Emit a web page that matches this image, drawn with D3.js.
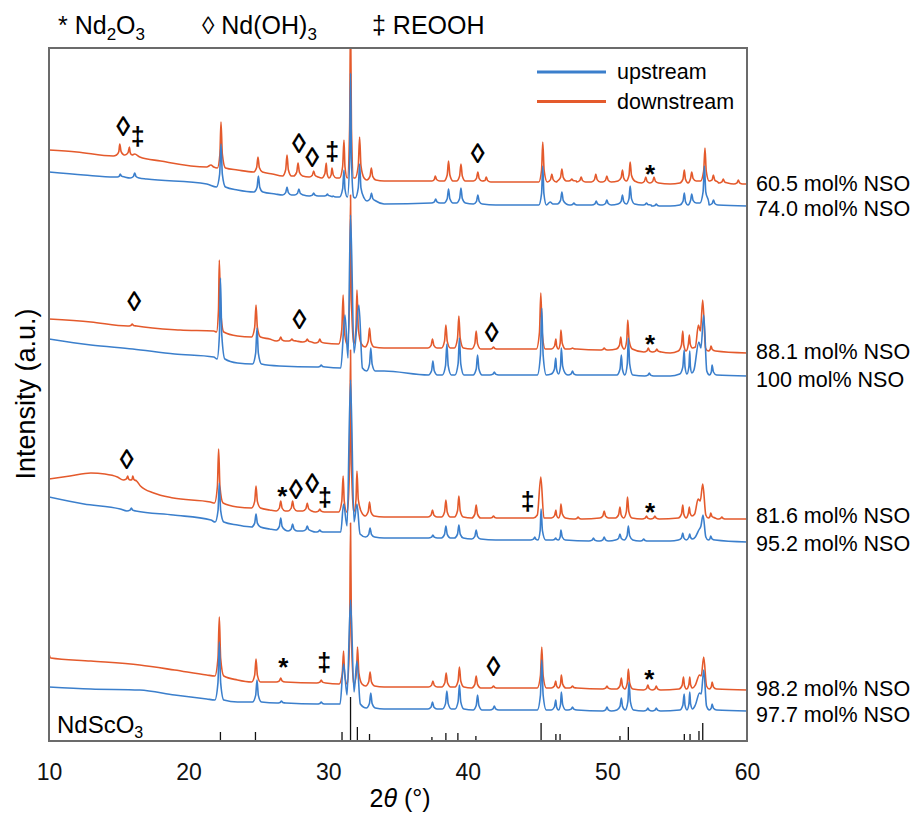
<!DOCTYPE html>
<meta charset="utf-8">
<style>
body { margin: 0; background: #fff; }
svg { font-family: "Liberation Sans", Arial, Helvetica, sans-serif; }
.frame { fill: none; stroke: #6b6b6b; stroke-width: 2px; }
.trace { fill: none; stroke-width: 1.6px; stroke-linejoin: round; }
</style>
<svg width="916" height="816"></svg>
<script src="https://d3js.org/d3.v7.min.js"></script>
<script>

// entries: [2theta, I] is a plain point, [2theta, base, apex(, halfwidth)] is a peak
var dn605 = [[10,34],[12,32],[14.6,28],[15.07,29,40],[15.76,29,37],[16.14,30],[16.5,27],[18,23],[21.3,17],[21.6,19],[21.8,17],[22.32,16,62],[23.5,14],[24.97,12,27],[26,10],[27.05,8,29],[27.84,8,21],[28.96,7,13],[29.86,6,21],[30.27,6,16],[31.13,6,44],[31.6,6,170,0.22],[32.25,6,47],[33.09,4,16],[34,3],[37.2,3],[37.67,3,8],[38.62,3,23],[39.51,3,20],[40.72,3,12],[41.32,2,7],[42,2],[44.8,2],[45.37,2,42],[46.02,2,10],[46.74,3,15],[47.45,3,5],[48.12,2,7],[49.17,2,10],[49.96,2,8],[51.08,3,14],[51.63,3,22],[52.75,1,7],[53.34,1,7],[54.5,0],[55.51,1,14],[56.04,3,12],[56.99,3,36],[57.59,2,9],[58.3,1,5],[59.38,0,4],[60,0]];
var up740 = [[10,34],[12.5,31],[14.7,29],[15.1,29,32],[16.14,28,33],[17,27],[21.3,22],[22.32,19,62],[23.5,16],[25.0,14,30],[26.2,12],[27.05,11,19],[27.9,11,17],[28.96,10,13],[29.95,10,12],[30.35,9,10],[31.13,9,36],[31.6,9,133,0.22],[32.25,8,42],[33.1,5,13],[34,2],[37.7,3,7],[38.62,3,17],[39.51,3,18],[40.72,2,11],[42,1],[44.8,1],[45.37,1,40],[45.9,4],[46.1,2],[46.74,2,14],[47.6,1,3],[49.2,1,5],[49.96,1,6],[51.08,2,11],[51.63,2,20],[52.8,1,3],[53.5,0,2],[54.5,0],[55.51,1,13],[56.04,3,12],[56.95,3,40],[57.6,1,6],[60,0]];
var dn881 = [[10,34],[13,31],[15.96,27,29],[19.4,23],[21.8,22],[22.2,21,93],[23.5,17],[24.83,16,48],[25.8,14],[26.6,12,16],[27.4,12,14],[28.5,11,14],[29.4,10,14],[31.07,9,58],[31.6,9,158,0.22],[32.06,9,63],[32.96,6,25],[34,5],[37.47,5,14],[38.43,5,28],[39.36,5,37],[40.6,4,22],[41.84,4,6],[44.5,4],[45.23,4,60],[46.31,4,14],[46.67,4,23],[47.5,4,5],[49.77,3,5],[50.96,4,16],[51.46,4,33],[52.93,1,5],[53.54,1,4],[54.5,0],[55.4,2,22],[55.87,5,18],[56.3,6],[56.52,28],[56.66,22],[56.83,53],[57.03,5],[57.42,2,7],[60,0]];
var up100 = [[10,37],[13,31],[16,27],[19,22],[21.8,19],[22.28,17,98],[23.5,13],[24.9,12,48],[26.5,10],[29.5,9,11],[30.9,8],[31.2,61],[31.42,18],[31.6,161],[31.85,23],[32.2,71],[32.45,8],[33.05,5,28],[34,5],[37.5,1,15],[38.5,1,32],[39.4,1,38],[40.7,1,21],[41.9,1,4],[44.5,1],[45.3,1,68],[46.3,2,18],[46.7,2,28],[47.5,1,5],[51.0,1,21],[51.5,1,38],[53.0,0,3],[54.5,0],[55.5,2,26],[55.9,3,25],[56.2,6],[56.55,34],[56.7,28],[56.9,61],[57.12,5],[57.5,1,11],[60,0]];
var dn816 = [[10,40],[11.5,43],[13,46],[14,45],[14.9,42],[15.64,39,43],[16.0,38,43],[16.55,33],[17.5,26],[18.9,21],[21.56,17],[22.15,16,70],[23.5,12],[24.83,11,33],[25.8,9],[26.6,8,18],[27.45,8,18],[28.5,8,16],[29.4,7,10],[31.07,7,43],[31.6,7,169,0.22],[32.06,7,48],[32.96,3,17],[34,2],[37.47,2,9],[38.43,2,19],[39.36,2,23],[40.6,1,14],[41.84,1,3],[44.7,1],[44.98,4],[45.23,42],[45.45,1],[46.31,1,9],[46.67,1,15],[47.9,0,2],[49.77,1,8],[50.9,1,12],[51.44,1,22],[52.8,0,3],[53.4,0,3],[55.4,1,14],[55.87,3,12],[56.25,5],[56.5,20],[56.65,18],[56.83,35],[57.05,4],[57.4,1,6],[58.2,0,2],[60,0]];
var up952 = [[10,45],[12.5,38],[15.1,33],[15.9,31,34],[18.9,27],[21.6,22],[22.2,20,59],[23.5,17],[24.83,15,28],[25.8,13],[26.6,12,24],[27.45,11,18],[28.5,11,16],[29.4,10,12],[30.9,10],[31.1,38],[31.35,16],[31.6,162],[31.85,20],[32.06,38],[32.28,8],[33.0,5,14],[34,4],[37.5,4,7],[38.43,4,16],[39.36,4,17],[40.6,3,12],[42,2],[44.8,2,5],[45.25,2,33],[46.3,2,4],[46.67,2,12],[49.0,1,4],[49.77,1,5],[50.9,2,8],[51.5,2,16],[52.6,1,3],[54.5,1],[55.4,2,9],[55.9,3,8],[56.3,5],[56.55,12],[56.7,16],[56.85,27],[57.05,5],[57.4,2,6],[60,0]];
var dn982 = [[10,36],[10.12,32],[13,29],[16.5,25],[19,20],[21.3,15],[22.2,14,73],[23.5,10],[24.83,8,31],[26.6,8,12],[29.5,7,10],[31.1,6,39],[31.6,6,167,0.22],[32.1,6,43],[33.0,4,18],[34,3],[37.5,3,9],[38.45,3,17],[39.4,3,23],[40.6,2,14],[41.84,2,4],[44.5,2],[45.3,2,43],[46.3,2,9],[46.7,2,15],[47.5,2,4],[49.97,1,4],[51.0,1,12],[51.5,1,21],[52.9,0,5],[53.5,0,4],[55.45,1,13],[55.9,2,13],[56.3,5],[56.6,15],[56.72,14],[56.9,33],[57.1,4],[57.5,1,8],[60,0]];
var up977 = [[10,24],[13,22],[16.5,21],[19,16],[21.3,12],[22.2,11,69],[23.5,9],[24.9,9,31],[26.65,8,10],[29.5,7,9],[30.85,7],[31.1,47],[31.35,16],[31.6,111],[31.85,19],[32.06,50],[32.3,7],[33.05,3,18],[34,2],[37.47,2,9],[38.5,2,20],[39.4,2,26],[40.7,1,16],[41.9,1,5],[44.5,1],[45.3,1,51],[46.3,1,11],[46.7,1,19],[47.5,1,4],[49.97,0,4],[51.0,1,13],[51.55,1,29],[52.9,0,3],[53.5,0,3],[55.5,1,17],[55.9,2,19],[56.3,6],[56.6,18],[56.72,17],[56.9,41],[57.1,5],[57.5,1,7],[60,0]];

var traces = [dn605, up740, dn881, up100, dn816, up952, dn982, up977];
var sides = ["downstream", "upstream", "downstream", "upstream", "downstream", "upstream", "downstream", "upstream"];
var offsets = [557, 535, 388, 365, 222, 199, 51, 30];
var sampleLabels = ["60.5 mol% NSO", "74.0 mol% NSO", "88.1 mol% NSO", "100 mol% NSO",
                    "81.6 mol% NSO", "95.2 mol% NSO", "98.2 mol% NSO", "97.7 mol% NSO"];
var labelLevels = [558, 533, 390, 362, 226, 198, 53, 27];

// NdScO3 reference pattern
var refPos = [22.28, 24.79, 30.99, 31.6, 32.09, 32.96, 37.43, 38.43, 39.29, 40.58, 45.25, 46.31, 46.61, 50.90, 51.50, 55.51, 55.92, 56.56, 56.83];
var refInt = [9, 9, 9, 44, 14, 7, 4, 8, 8, 5, 18, 7, 7, 5, 14, 7, 7, 10, 18];

// phase markers: symbol, 2theta, level
var marks = [
  ["◊",15.32,615],["‡",16.35,604],["◊",27.91,598],["◊",28.86,584],["‡",30.29,589],["◊",40.71,588],["*",53.05,574],
  ["◊",16.11,440],["◊",27.93,422],["◊",41.71,409],["*",53.05,404],
  ["◊",15.57,282],["*",26.71,252],["◊",27.69,252],["◊",28.86,258],["‡",29.77,243],["‡",44.29,239],["*",53.05,236],
  ["*",26.78,81],["‡",29.72,78],["◊",41.83,75],["*",53.0,69]
];

var xTicks = [10, 20, 30, 40, 50, 60];
var colors = { upstream: "#3b7fcc", downstream: "#e45a2c" };

var svg = d3.select("svg");
var x = d3.scaleLinear().domain([10, 60]).range([49, 747]);
var y = d3.scaleLinear().domain([0, 693]).range([741, 48]);

svg.append("clipPath").attr("id", "plot")
  .append("rect").attr("x", 49).attr("y", 48).attr("width", 698).attr("height", 693);

// turn the peak entries into line vertices (narrow peak with a foot on each side)
function expand(entries) {
  var pts = [];
  entries.forEach(function(e, i) {
    if (e.length == 2) { pts.push(e); return; }
    var hw = e[3] || 0.32;
    var prev = entries[i - 1], next = entries[i + 1];
    var hl = prev ? Math.min(hw, (e[0] - prev[0]) / 2) : hw;
    var hr = next ? Math.min(hw, (next[0] - e[0]) / 2) : hw;
    var h = e[2] - e[1];
    pts.push([e[0] - hl, e[1]]);
    pts.push([e[0] - hl * 0.3, e[1] + h * 0.3]);
    pts.push([e[0], e[2]]);
    pts.push([e[0] + hr * 0.3, e[1] + h * 0.3]);
    pts.push([e[0] + hr, e[1]]);
  });
  pts.sort(function(a, b) { return a[0] - b[0]; });
  return pts.filter(function(p, i) { return i == 0 || p[0] > pts[i - 1][0]; });
}

var g = svg.append("g").attr("clip-path", "url(#plot)");

// reference sticks
g.selectAll("line.ref")
  .data(refPos)
  .enter().append("line")
    .attr("class", "ref")
    .attr("x1", function(d) { return x(d); })
    .attr("x2", function(d) { return x(d); })
    .attr("y1", y(0))
    .attr("y2", function(d, i) { return y(refInt[i]); })
    .attr("stroke", "#111")
    .attr("stroke-width", 1.3);

traces.forEach(function(tr, i) {
  var off = offsets[i];
  var line = d3.line()
    .x(function(d) { return x(d[0]); })
    .y(function(d) { return y(off + d[1]); })
    .curve(d3.curveMonotoneX);
  g.append("path")
    .attr("class", "trace")
    .attr("d", line(expand(tr)))
    .attr("stroke", colors[sides[i]]);
});

// phase markers
var symStyle = { "◊": [28, 0.36], "‡": [25, 0.33], "*": [26, 0.62] };
svg.selectAll("text.mark")
  .data(marks)
  .enter().append("text")
    .attr("class", "mark")
    .attr("x", function(d) { return x(d[1]); })
    .attr("y", function(d) { return y(d[2]); })
    .attr("dy", function(d) { return symStyle[d[0]][1] + "em"; })
    .attr("text-anchor", "middle")
    .style("font-size", function(d) { return symStyle[d[0]][0] + "px"; })
    .style("font-weight", "bold")
    .text(function(d) { return d[0]; });

// NdScO3 label
var nd = svg.append("text").attr("x", 57).attr("y", 733).style("font-size", "24px");
nd.append("tspan").text("NdScO");
nd.append("tspan").attr("dy", 5).style("font-size", "16px").text("3");

// frame
svg.append("rect").attr("class", "frame")
  .attr("x", 49).attr("y", 48).attr("width", 698).attr("height", 693);

// x axis
var xAxis = d3.axisBottom(x).tickValues(xTicks).tickSize(0).tickPadding(23);
var ax = svg.append("g").attr("transform", "translate(0,741)").call(xAxis);
ax.select(".domain").remove();
ax.selectAll("text").style("font-size", "23px").style("font-family", "inherit").attr("fill", "#111");

var xl = svg.append("text").attr("x", 400).attr("y", 807).attr("text-anchor", "middle").style("font-size", "25px");
xl.append("tspan").text("2");
xl.append("tspan").style("font-style", "italic").text("θ");
xl.append("tspan").text(" (°)");

svg.append("text")
  .attr("transform", "translate(35,394) rotate(-90)")
  .attr("text-anchor", "middle")
  .style("font-size", "27px")
  .text("Intensity (a.u.)");

// sample labels
svg.selectAll("text.sample")
  .data(sampleLabels)
  .enter().append("text")
    .attr("class", "sample")
    .attr("x", 756)
    .attr("y", function(d, i) { return y(labelLevels[i]); })
    .attr("dy", "0.36em")
    .style("font-size", "21.5px")
    .text(function(d) { return d; });

// legend
var legend = svg.append("g");
["upstream", "downstream"].forEach(function(s, i) {
  legend.append("line")
    .attr("x1", 537).attr("x2", 606)
    .attr("y1", 72 + i * 29.5).attr("y2", 72 + i * 29.5)
    .attr("stroke", colors[s]).attr("stroke-width", 3);
  legend.append("text")
    .attr("x", 617).attr("y", 72 + i * 29.5).attr("dy", "0.33em")
    .style("font-size", "21.5px")
    .text(s);
});

// phase key on top
var keys = [["* ", "Nd", "2", "O", "3", ""], ["◊ ", "Nd(OH)", "3", "", "", ""], ["‡ ", "REOOH", "", "", "", ""]];
var keyX = [58, 202, 372];
keys.forEach(function(k, i) {
  var t = svg.append("text").attr("x", keyX[i]).attr("y", 34).style("font-size", "25px");
  t.append("tspan").text(k[0] + k[1]);
  if (k[2]) t.append("tspan").attr("dy", 6).style("font-size", "17px").text(k[2]);
  if (k[3]) t.append("tspan").attr("dy", -6).text(k[3]);
  if (k[4]) t.append("tspan").attr("dy", 6).style("font-size", "17px").text(k[4]);
});

</script>
